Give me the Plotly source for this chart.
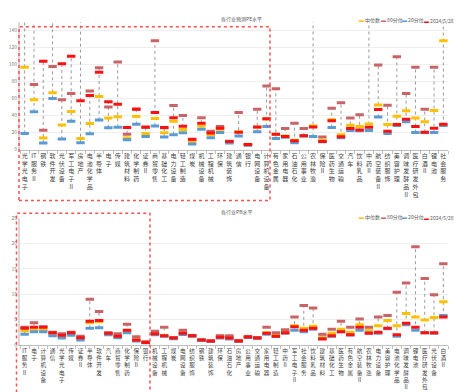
import plotly.graph_objects as go

# ---------------- data: PE chart ----------------
pe_categories = ["光学光电子", "IT服务Ⅱ", "钢铁", "软件开发", "光伏设备", "军工电子Ⅱ", "房地产", "电池化学品",
                 "半导体", "电子", "传媒", "建筑材料", "化学制药", "证券Ⅱ", "商贸零售", "基础化工", "电力设备",
                 "轻工制造", "煤炭", "机械设备", "工程机械", "环保", "建筑装饰", "通信", "银行", "电网设备",
                 "计算机设备", "有色金属", "家用电器", "石油石化", "公用事业", "农林牧渔", "保险Ⅱ", "医药生物",
                 "交通运输", "汽车", "饮料乳品", "中药Ⅱ", "航空装备Ⅱ", "纺织服饰", "美容护理", "调味发酵品Ⅱ",
                 "医疗研发外包", "白酒Ⅱ", "锂电池", "社会服务"]
pe_median = [96.8, 58.6, 13.5, 66.7, 28.9, 44.7, 13.1, 30.5, 62.5, 37.0, 38.6, 13.5, 39.0, 18.9, 36.6, 19.7,
             33.2, 23.5, 8.9, 27.8, 17.7, 23.9, 8.6, 20.8, 5.5, 26.2, 35.8, 17.6, 15.8, 10.8, 16.6, 27.8,
             10.8, 35.1, 17.4, 28.5, 27.0, 30.1, 52.5, 29.3, 39.3, 45.5, 37.0, 32.8, 45.9, 128.0]
pe_p80 = [175.0, 76.4, 22.8, 97.6, 58.6, 66.0, 170.0, 69.0, 96.4, 50.1, 103.0, 18.1, 47.0, 26.0, 128.0, 25.5,
          51.7, 40.1, 11.8, 37.4, 21.6, 27.0, 9.6, 43.6, 6.0, 47.4, 74.8, 71.4, 24.7, 30.9, 24.7, 160.0,
          14.7, 48.6, 55.2, 37.0, 40.9, 160.0, 99.5, 52.1, 109.2, 66.0, 96.8, 47.4, 96.8, 165.0]
pe_p20 = [18.9, 44.4, 7.7, 60.2, 12.3, 33.2, 8.1, 18.5, 34.7, 25.5, 26.2, 11.6, 29.7, 15.4, 27.8, 14.7,
          17.4, 19.7, 6.6, 23.9, 13.9, 20.0, 7.7, 15.8, 5.0, 20.8, 27.0, 13.1, 14.3, 8.1, 15.8, 15.4,
          9.0, 25.8, 13.9, 22.4, 22.0, 22.4, 38.2, 18.9, 28.2, 32.8, 20.0, 20.0, 20.0, 28.2]
pe_now = [160.0, 165.0, 103.8, 158.0, 101.0, 109.9, 57.5, 63.6, 91.0, 56.3, 53.2, 25.8, 47.8, 26.6, 43.6, 25.8,
          37.4, 27.4, 12.0, 30.9, 19.3, 25.1, 9.3, 20.4, 5.8, 26.6, 36.3, 18.1, 15.4, 10.4, 16.2, 26.6,
          9.3, 33.9, 15.0, 24.7, 23.1, 26.2, 47.1, 21.6, 29.3, 35.5, 27.0, 20.4, 25.1, 29.7]

# ---------------- data: PB chart ----------------
pb_categories = ["IT服务Ⅱ", "电子", "计算机设备", "通信", "光学光电子", "传媒", "证券Ⅱ", "半导体", "软件开发",
                 "汽车", "商贸零售", "化学制药", "保险Ⅱ", "银行", "机械设备", "工程机械", "煤炭", "电网设备",
                 "纺织服饰", "钢铁", "建筑装饰", "环保", "石油石化", "房地产", "公用事业", "交通运输", "家用电器",
                 "轻工制造", "中药Ⅱ", "军工电子Ⅱ", "社会服务", "饮料乳品", "建筑材料", "基础化工", "医药生物",
                 "有色金属", "航空装备Ⅱ", "农林牧渔", "电力设备", "美容护理", "电池化学品", "调味发酵品Ⅱ",
                 "锂电池", "医疗研发外包", "光伏设备", "白酒Ⅱ"]
pb_median = [2.8, 2.9, 2.9, 2.1, 1.6, 2.3, 1.3, 4.4, 4.6, 2.1, 1.5, 2.8, 1.0, 0.55, 2.2, 1.8, 1.3, 2.3,
             1.8, 0.95, 0.75, 1.7, 1.5, 0.85, 1.55, 1.35, 2.4, 1.85, 2.55, 3.8, 3.3, 3.7, 1.6, 2.3, 3.1,
             2.5, 4.0, 2.9, 3.8, 4.8, 3.8, 6.2, 5.5, 4.9, 5.4, 8.5]
pb_p80 = [3.5, 4.4, 3.6, 2.5, 2.2, 2.5, 1.7, 9.0, 6.6, 2.4, 2.2, 4.1, 1.6, 0.65, 2.7, 3.5, 1.45, 2.9,
          1.85, 1.05, 0.85, 1.8, 1.8, 0.9, 1.65, 1.45, 3.5, 2.4, 3.0, 5.5, 7.8, 7.3, 2.1, 3.1, 4.7,
          3.5, 5.1, 3.5, 5.5, 5.8, 10.4, 12.2, 19.4, 13.1, 9.9, 16.0]
pb_p20 = [2.1, 2.6, 2.6, 1.8, 1.35, 1.9, 1.0, 3.3, 3.4, 2.0, 1.4, 2.4, 0.8, 0.45, 2.0, 1.7, 1.2, 2.05,
          1.7, 0.9, 0.7, 1.35, 1.15, 0.7, 1.45, 1.3, 2.1, 1.65, 2.3, 2.9, 2.6, 3.1, 1.25, 1.7, 2.6,
          1.95, 2.9, 2.4, 2.3, 3.2, 1.7, 4.0, 2.9, 2.4, 2.3, 5.8]
pb_now = [3.3, 3.5, 3.5, 2.4, 1.9, 2.4, 1.4, 4.7, 4.8, 2.3, 1.7, 2.9, 1.0, 0.5, 2.2, 1.8, 1.35, 2.3,
          1.8, 1.0, 0.8, 1.5, 1.35, 0.8, 1.55, 1.35, 2.3, 1.7, 2.4, 3.6, 2.9, 3.3, 1.15, 1.8, 2.6,
          2.0, 3.5, 2.3, 2.5, 3.3, 2.0, 4.3, 3.5, 2.4, 2.4, 5.5]

series_names = ["中位数", "80分位", "20分位", "2024/5/28"]
series_colors = ["#FFC000", "#C86466", "#5B9BD5", "#FF1010"]

W, H = 466, 392


def stack(label):
    tokens, buf = [], ""
    for ch in label:
        if ch.isascii() and ch.isalnum():
            buf += ch
        else:
            if buf:
                tokens.append(buf)
                buf = ""
            tokens.append(ch)
    if buf:
        tokens.append(buf)
    return "<br>".join(tokens)


fig = go.Figure()


def add_chart(cats, med, p80, p20, now, xa, ya):
    n = len(cats)
    idx = list(range(n))
    hx, hy = [], []
    for i in idx:
        vals = [med[i], p80[i], p20[i], now[i]]
        hx += [i, i, None]
        hy += [min(vals), max(vals), None]
    fig.add_trace(go.Scatter(x=hx, y=hy, mode="lines", xaxis=xa, yaxis=ya,
                             line=dict(color="#9A9A9A", width=1, dash="dot"),
                             showlegend=False, hoverinfo="skip"))
    for vals, name, col in zip([med, p80, p20, now], series_names, series_colors):
        fig.add_trace(go.Scatter(x=idx, y=vals, mode="markers", name=name, xaxis=xa, yaxis=ya,
                                 marker=dict(symbol="line-ew", size=6,
                                             line=dict(color=col, width=3)),
                                 showlegend=False))


add_chart(pe_categories, pe_median, pe_p80, pe_p20, pe_now, "x", "y")
add_chart(pb_categories, pb_median, pb_p80, pb_p20, pb_now, "x2", "y2")

xdom = [12 / W, 440 / W]
yfont = dict(family="Noto Sans CJK SC", size=5, color="#808080")


def xaxis_cfg(cats, anchor, fsize):
    return dict(domain=xdom, anchor=anchor, range=[-0.5, len(cats) - 0.5],
                tickmode="array", tickvals=list(range(len(cats))),
                ticktext=[stack(c) for c in cats],
                tickfont=dict(family="Noto Sans CJK SC", size=fsize, color="#404040"), ticks="",
                showgrid=False, zeroline=False, showline=True, linecolor="#BFBFBF", linewidth=1,
                minor=dict(ticks="outside", ticklen=3, tick0=0.5, dtick=1, tickcolor="#BFBFBF",
                           showgrid=False),
                fixedrange=True)


def yaxis_cfg(dom, rng, dtick, anchor):
    return dict(domain=dom, anchor=anchor, range=rng, dtick=dtick, tick0=0,
                showgrid=True, gridcolor="#EFEFEF", gridwidth=1, zeroline=False,
                showline=True, linecolor="#D9D9D9", linewidth=2,
                tickfont=yfont, ticks="", fixedrange=True)


fig.update_layout(
    width=W, height=H, margin=dict(l=0, r=0, t=0, b=0),
    paper_bgcolor="white", plot_bgcolor="white", showlegend=False,
    xaxis=xaxis_cfg(pe_categories, "y", 6),
    yaxis=yaxis_cfg([1 - 140 / H, 1 - 10.3 / H], [0, 150], 20, "x"),
    xaxis2=xaxis_cfg(pb_categories, "y2", 5.6),
    yaxis2=yaxis_cfg([1 - 339 / H, 1 - 210 / H], [0, 25], 5, "x2"),
)

ann_font = dict(family="Noto Sans CJK SC", size=5, color="#595959")
annotations = [
    dict(text="各行业预测PE水平", x=233 / W, y=1 - 7 / H),
    dict(text="各行业PB水平", x=228 / W, y=1 - 204 / H),
]
for a in annotations:
    a.update(xref="paper", yref="paper", showarrow=False, font=ann_font,
             xanchor="center", yanchor="middle")

legend_x = [349, 371, 392, 414]
for ly in [8.5, 209]:
    for lx, name, col in zip(legend_x, series_names, series_colors):
        annotations.append(dict(
            text=f"<span style='color:{col}'>▬</span> {name}",
            x=lx / W, y=1 - ly / H, xref="paper", yref="paper", showarrow=False,
            xanchor="left", yanchor="middle", font=ann_font))
fig.update_layout(annotations=annotations)

# highlight boxes
fig.add_shape(type="rect", xref="paper", yref="paper",
              x0=11 / W, x1=262 / W, y0=1 - 192 / H, y1=1 - 15 / H,
              line=dict(color="#FF5050", width=1.5, dash="dot"))
fig.add_shape(type="rect", xref="paper", yref="paper",
              x0=8.5 / W, x1=142 / W, y0=1 - 389 / H, y1=1 - 205 / H,
              line=dict(color="#FF5050", width=1.5, dash="dot"))

fig.write_html("out.html")
